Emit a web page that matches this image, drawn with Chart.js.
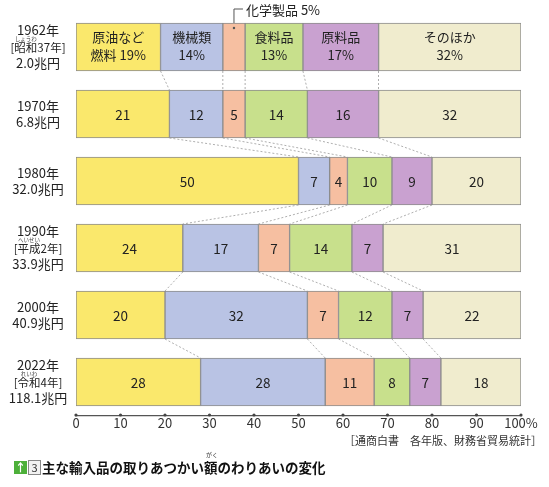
<!DOCTYPE html>
<html>
<head>
<meta charset="utf-8">
<script src="https://cdn.jsdelivr.net/npm/chart.js@4.4.1/dist/chart.umd.min.js"></script>
<style>
  body { margin: 0; background: #fff; }
  #wrap { position: relative; width: 549px; height: 487px; overflow: hidden; font-family: "Noto Sans CJK JP", sans-serif; color: #222; }
  #importChart { position: absolute; left: 0; top: 0; }
  .source { position: absolute; right: 7px; top: 432px; font-size: 11px; line-height: 16px; color: #333; white-space: nowrap; }
  .icon { position: absolute; left: 14px; top: 461px; width: 13px; height: 13px; background: #4db03a; color: #fff; font-size: 11px; font-weight: bold; line-height: 13px; text-align: center; }
  .num { position: absolute; left: 28px; top: 460px; width: 11px; height: 13px; border: 1px solid #888; color: #333; font-size: 11px; line-height: 13px; text-align: center; background: #f2f2f2; }
  .title { position: absolute; left: 42px; top: 458px; font-size: 13.5px; font-weight: bold; line-height: 19px; white-space: nowrap; color: #111; }
  .ruby { position: absolute; left: 206px; top: 451px; font-size: 6px; line-height: 7px; color: #333; }
</style>
</head>
<body>
<div id="wrap">
  <canvas id="importChart" width="549" height="487"></canvas>
  <div class="source">［通商白書　各年版、財務省貿易統計］</div>
  <div class="icon">↑</div>
  <div class="num">3</div>
  <div class="ruby">がく</div>
  <div class="title">主な輸入品の取りあつかい額のわりあいの変化</div>
</div>
<script>
// data
const years = ["1962年", "1970年", "1980年", "1990年", "2000年", "2022年"];
const eras = ["昭和37年", "", "", "平成2年", "", "令和4年"];
const eraRuby = ["しょうわ", "", "", "へいせい", "", "れいわ"];
const totals = ["2.0兆円", "6.8兆円", "32.0兆円", "33.9兆円", "40.9兆円", "118.1兆円"];

const categories = ["原油など燃料", "機械類", "化学製品", "食料品", "原料品", "そのほか"];
const fuel = [19, 21, 50, 24, 20, 28];
const machinery = [14, 12, 7, 17, 32, 28];
const chemicals = [5, 5, 4, 7, 7, 11];
const food = [13, 14, 10, 14, 12, 8];
const rawMaterials = [17, 16, 9, 7, 7, 7];
const others = [32, 32, 20, 31, 22, 18];

// first row shows names instead of plain numbers
const firstRowTop = ["原油など", "機械類", "", "食料品", "原料品", "そのほか"];
const firstRowPrefix = ["燃料 ", "", "", "", "", ""];

const xTickLabels = ["0", "10", "20", "30", "40", "50", "60", "70", "80", "90", "100%"];

const colors = ["#fae86c", "#b9c3e4", "#f6bfa1", "#c8e08c", "#c9a1d0", "#f0ecce"];
const series = [fuel, machinery, chemicals, food, rawMaterials, others];

const FONT = '"Liberation Sans Narrow", "Noto Sans CJK JP", sans-serif';

// dotted lines joining the same boundary between rows
const connectors = {
    id: "connectors",
    beforeDatasetsDraw(chart) {
        const ctx = chart.ctx;
        ctx.save();
        ctx.strokeStyle = "#9a9a9a";
        ctx.lineWidth = 0.8;
        ctx.setLineDash([2, 2]);
        for (let k = 0; k < series.length - 1; k++) {
            const bars = chart.getDatasetMeta(k).data;
            for (let r = 0; r < bars.length - 1; r++) {
                const a = bars[r], b = bars[r + 1];
                ctx.beginPath();
                ctx.moveTo(a.x, a.y + a.height / 2);
                ctx.lineTo(b.x, b.y - b.height / 2);
                ctx.stroke();
            }
        }
        ctx.restore();
    }
};

// numbers inside bars
const barLabels = {
    id: "barLabels",
    afterDatasetsDraw(chart) {
        const ctx = chart.ctx;
        ctx.save();
        ctx.fillStyle = "#222";
        ctx.textAlign = "center";
        ctx.textBaseline = "middle";
        series.forEach((vals, k) => {
            chart.getDatasetMeta(k).data.forEach((el, r) => {
                const cx = (el.x + el.base) / 2;
                if (r === 0) {
                    if (!firstRowTop[k]) return;
                    ctx.font = "13px " + FONT;
                    ctx.fillText(firstRowTop[k], cx, el.y - 10);
                    ctx.fillText(firstRowPrefix[k] + vals[r] + "%", cx, el.y + 8);
                } else {
                    ctx.font = "13.5px " + FONT;
                    ctx.fillText(String(vals[r]), cx, el.y + 1);
                }
            });
        });

        // callout for the thin 化学製品 bar in 1962
        const el = chart.getDatasetMeta(2).data[0];
        const cx = (el.x + el.base) / 2;
        const top = el.y - el.height / 2;
        ctx.strokeStyle = "#555";
        ctx.lineWidth = 1;
        ctx.beginPath();
        ctx.moveTo(cx, top);
        ctx.lineTo(cx, 9);
        ctx.lineTo(cx + 9, 9);
        ctx.stroke();
        ctx.beginPath();
        ctx.arc(cx, top + 5, 1.2, 0, Math.PI * 2);
        ctx.fillStyle = "#555";
        ctx.fill();
        ctx.fillStyle = "#222";
        ctx.textAlign = "left";
        ctx.font = "13px " + FONT;
        ctx.fillText(categories[2] + " " + chemicals[0] + "%", cx + 12, 10);
        ctx.restore();
    }
};

// year / era / total labels on the left
const rowLabels = {
    id: "rowLabels",
    afterDraw(chart) {
        const ctx = chart.ctx;
        const y = chart.scales.y;
        const lx = 38;
        ctx.save();
        ctx.fillStyle = "#222";
        ctx.textAlign = "center";
        ctx.textBaseline = "middle";
        years.forEach((yr, r) => {
            const cy = y.getPixelForValue(r);
            ctx.font = "13px " + FONT;
            if (eras[r]) {
                ctx.fillText(yr, lx, cy - 17);
                ctx.fillText(totals[r], lx, cy + 16);
                ctx.font = "11.5px " + FONT;
                const txt = "[" + eras[r] + "]";
                const w = ctx.measureText(txt).width;
                ctx.fillText(txt, lx, cy + 1);
                const start = lx - w / 2 + ctx.measureText("[").width;
                const kw = ctx.measureText(eras[r].slice(0, 2)).width;
                ctx.font = "5.5px " + FONT;
                ctx.fillStyle = "#444";
                ctx.fillText(eraRuby[r], start + kw / 2, cy - 8);
                ctx.fillStyle = "#222";
            } else {
                ctx.fillText(yr, lx, cy - 8);
                ctx.fillText(totals[r], lx, cy + 8);
            }
        });

        // tick dots on the axis
        const x = chart.scales.x;
        ctx.fillStyle = "#444";
        for (let v = 0; v <= 100; v += 10) {
            ctx.beginPath();
            ctx.arc(x.getPixelForValue(v), x.top - 0.5, 1.6, 0, Math.PI * 2);
            ctx.fill();
        }
        ctx.restore();
    }
};

new Chart(document.getElementById("importChart"), {
    type: "bar",
    data: {
        labels: years,
        datasets: series.map((vals, k) => ({
            label: categories[k],
            data: vals,
            backgroundColor: colors[k],
            borderColor: "#8c8c8c",
            borderWidth: 1,
            borderSkipped: false,
            barThickness: 48
        }))
    },
    options: {
        indexAxis: "y",
        responsive: false,
        animation: false,
        layout: { padding: { left: 76, right: 28, top: 13.5, bottom: 41.5 } },
        plugins: {
            legend: { display: false },
            tooltip: { enabled: false }
        },
        scales: {
            x: {
                stacked: true,
                min: 0,
                max: 100,
                grid: { display: false, drawTicks: false, tickLength: 0 },
                border: { display: true, color: "#555", width: 1.3 },
                ticks: {
                    stepSize: 10,
                    autoSkip: false,
                    maxRotation: 0,
                    padding: 0,
                    color: "#333",
                    font: { family: FONT, size: 13 },
                    callback: (v, i) => xTickLabels[i]
                },
                afterFit: s => { s.height = 30; }
            },
            y: { stacked: true, display: false }
        }
    },
    plugins: [connectors, barLabels, rowLabels]
});
</script>
</body>
</html>
